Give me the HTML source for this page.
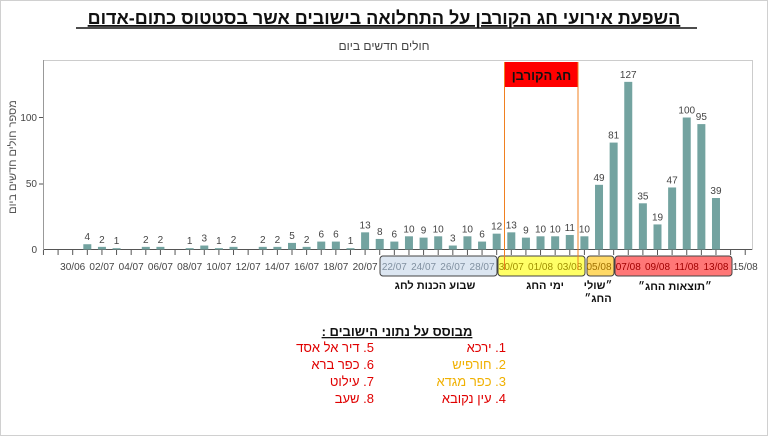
<!DOCTYPE html>
<html><head><meta charset="utf-8"><style>
body{margin:0;background:#fff;}
svg{display:block;font-family:"Liberation Sans","DejaVu Sans",sans-serif;}
</style></head><body>
<svg width="768" height="436" viewBox="0 0 768 436">
<rect x="0.5" y="0.5" width="767" height="435" fill="#fff" stroke="#d0d0d0"/>
<text x="384" y="24" text-anchor="middle" font-size="18" font-weight="bold" fill="#111" direction="rtl" text-decoration="underline">השפעת אירועי חג הקורבן על התחלואה בישובים אשר בסטטוס כתום-אדום</text>
<line x1="76" y1="28" x2="697" y2="28" stroke="#111" stroke-width="1.5"/>
<text x="384" y="50" text-anchor="middle" font-size="12" fill="#444" direction="rtl">חולים חדשים ביום</text>
<rect x="43.5" y="60.5" width="709" height="189" fill="none" stroke="#ccc"/>
<line x1="43.5" y1="249.5" x2="752" y2="249.5" stroke="#555"/>
<line x1="43.5" y1="60" x2="43.5" y2="250" stroke="#999"/>
<g font-size="10" fill="#444" text-anchor="end">
<text x="37" y="121">100</text><text x="37" y="187">50</text><text x="37" y="253">0</text>
</g>
<g stroke="#555"><line x1="39" y1="117.5" x2="43" y2="117.5"/><line x1="39" y1="184" x2="43" y2="184"/></g>
<text transform="translate(16,157) rotate(-90)" text-anchor="middle" font-size="11" fill="#555" direction="rtl">מספר חולים חדשים ביום</text>
<g id="ticks" stroke="#555"></g>
<g id="bars"></g>
<!-- boxes -->
<rect x="380" y="256" width="117" height="20" rx="3" fill="#dce6f1" stroke="#444"/>
<rect x="498" y="256" width="87" height="20" rx="3" fill="#ffff66" stroke="#444"/>
<rect x="587" y="256" width="27" height="20" rx="3" fill="#ffd966" stroke="#444"/>
<rect x="615" y="256" width="117" height="20" rx="3" fill="#ff7777" stroke="#444"/>
<g id="labels" font-size="10" text-anchor="middle"></g>
<rect x="505" y="62" width="73" height="25" fill="#ff0000"/>
<text x="541.5" y="80" text-anchor="middle" font-size="13" font-weight="bold" fill="#111" direction="rtl">חג הקורבן</text>
<line x1="504.5" y1="62" x2="504.5" y2="270" stroke="#f08020"/>
<line x1="578" y1="62" x2="578" y2="270" stroke="#f08020"/>
<g font-size="11" font-weight="bold" fill="#111" text-anchor="middle" direction="rtl">
<text x="435" y="289">שבוע הכנות לחג</text>
<text x="545" y="289">ימי החג</text>
<text x="598" y="289">״שולי</text>
<text x="598" y="302">החג״</text>
<text x="675" y="290">״תוצאות החג״</text>
</g>
<g font-size="13" direction="rtl">
<text x="397" y="336" text-anchor="middle" fill="#111" text-decoration="underline" font-weight="bold">מבוסס על נתוני הישובים :</text>
<text x="506" y="352" text-anchor="start" fill="#e00000">1.   ירכא</text>
<text x="506" y="369" text-anchor="start" fill="#f0b000">2. חורפיש</text>
<text x="506" y="386" text-anchor="start" fill="#f0b000">3. כפר מגדא</text>
<text x="506" y="403" text-anchor="start" fill="#e00000">4. עין נקובא</text>
<text x="374" y="352" text-anchor="start" fill="#e00000">5. דיר אל אסד</text>
<text x="374" y="369" text-anchor="start" fill="#e00000">6. כפר ברא</text>
<text x="374" y="386" text-anchor="start" fill="#e00000">7. עילוט</text>
<text x="374" y="403" text-anchor="start" fill="#e00000">8. שעב</text>
</g>
</svg>
<script>
var vals=[0,4,2,1,null,2,2,null,1,3,1,2,null,2,2,5,2,6,6,1,13,8,6,10,9,10,3,10,6,12,13,9,10,10,11,10,49,81,127,35,19,47,100,95,39];
var ns="http://www.w3.org/2000/svg";
function x(d){return 72.7+d*14.62;}
function el(t,a,p,txt){var e=document.createElementNS(ns,t);for(var k in a)e.setAttribute(k,a[k]);if(txt!=null)e.textContent=txt;document.getElementById(p).appendChild(e);}
for(var d=-2;d<=47;d++){var xx=x(d);if(xx<43||xx>753)continue;el("line",{x1:xx,y1:250,x2:xx,y2:255},"ticks");}
vals.forEach(function(v,d){if(v===null||v===0)return;var h=v*1.32;var xx=x(d);
el("rect",{x:xx-4,y:249.5-h,width:8,height:h,fill:"#73a3a0"},"bars");
el("text",{x:xx,y:249.5-h-4,"text-anchor":"middle","font-size":"10",fill:"#444"},"bars",String(v));});
var names=["30/06","02/07","04/07","06/07","08/07","10/07","12/07","14/07","16/07","18/07","20/07","22/07","24/07","26/07","28/07","30/07","01/08","03/08","05/08","07/08","09/08","11/08","13/08","15/08"];
names.forEach(function(n,i){var d=i*2;var c="#444";if(d>=22&&d<=28)c="#8090a0";else if(d>=30&&d<=34)c="#a09000";else if(d==36)c="#a07000";else if(d>=38&&d<=44)c="#a00000";
el("text",{x:x(d),y:270,fill:c},"labels",n);});
</script>
</body></html>
